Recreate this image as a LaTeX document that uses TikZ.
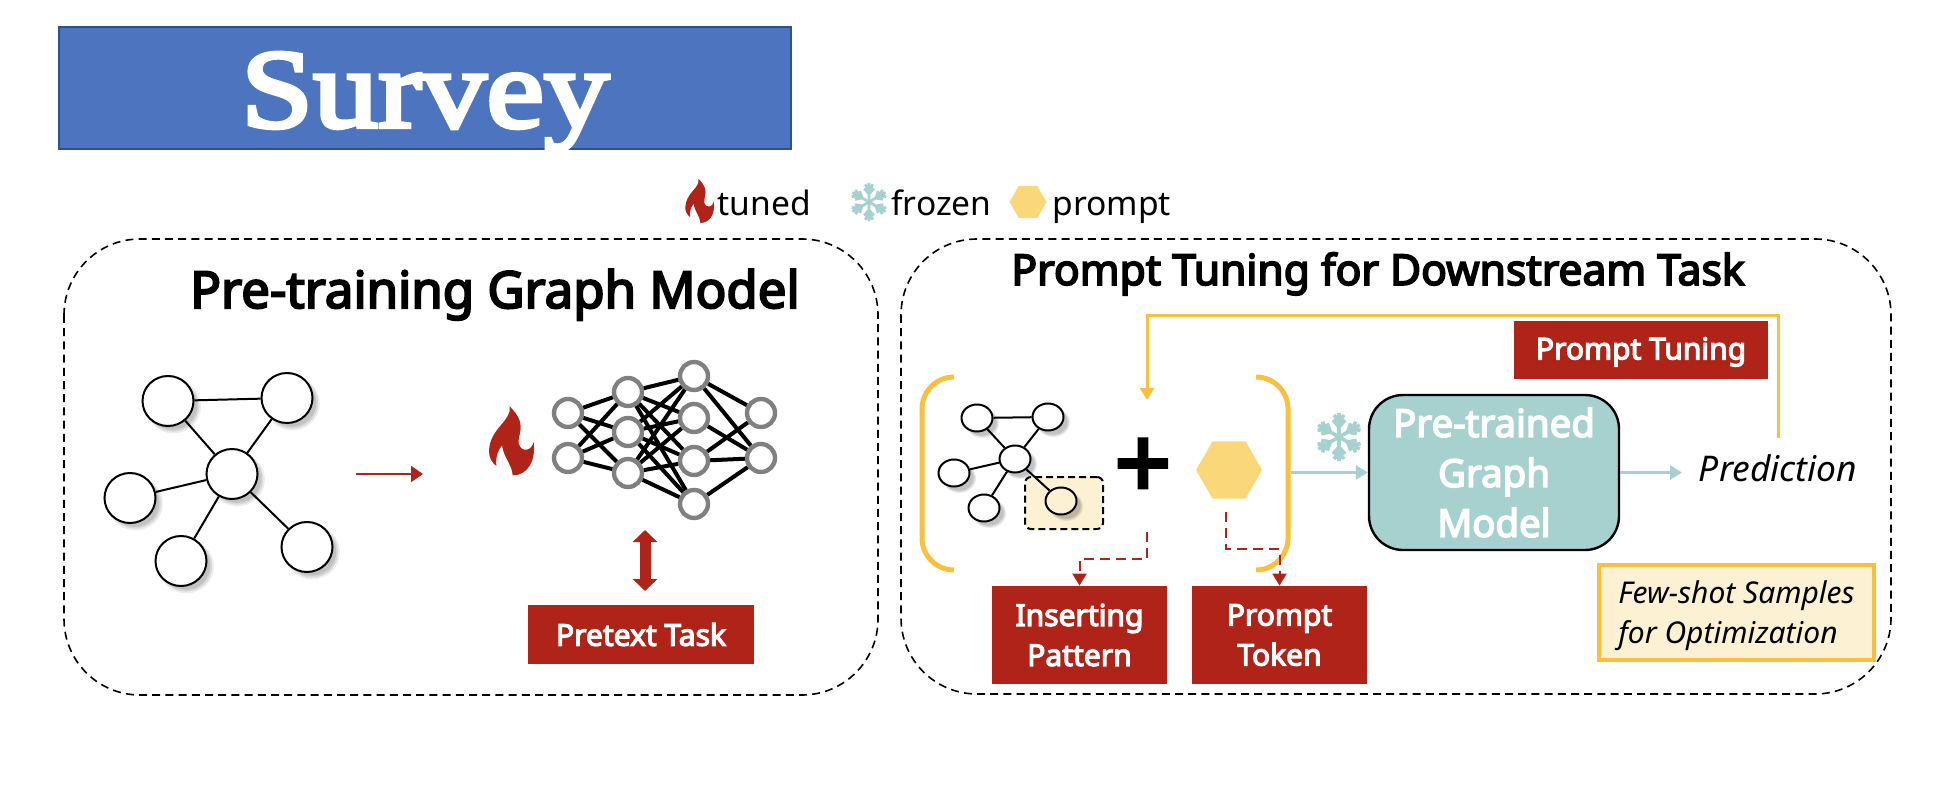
\documentclass[tikz,border=0pt]{standalone}
\usepackage{fontspec}
\usepackage{tikz}
\usetikzlibrary{arrows.meta,shapes.geometric,shadows}
\setmainfont{Noto Sans}
\newfontfamily\labelfont[FakeBold=4]{Noto Sans}
\newfontfamily\plusfont[FakeBold=3.5]{Noto Sans}
\newfontfamily\surveyfont[FakeBold=4,FakeStretch=1.16]{Liberation Serif}
\definecolor{tred}{HTML}{B02318}
\definecolor{tblue}{HTML}{4D75BF}
\definecolor{tblueline}{HTML}{2F528F}
\definecolor{tteal}{HTML}{A7D1CF}
\definecolor{tgold}{HTML}{F9BF3F}
\definecolor{thex}{HTML}{FAD779}
\definecolor{tcream}{HTML}{FCF2D3}
\tikzstyle{panel}=[draw=black,line width=0.8pt,dash pattern=on 4pt off 2.6pt,rounded corners=38pt]
\tikzstyle{titletext}=[anchor=base,inner sep=0pt,font=\labelfont\fontsize{25.5}{30}\selectfont]
\tikzstyle{legendtext}=[anchor=base west,inner sep=0pt,font=\fontsize{16.8}{20}\selectfont]
\tikzstyle{redbox}=[fill=tred,text=white,align=center,inner sep=0pt,font=\labelfont\fontsize{15}{20}\selectfont]
\tikzstyle{softshadow}=[general shadow={shadow xshift=2.5pt,shadow yshift=-2.5pt,shadow scale=1.08,fill=black,opacity=0.07},general shadow={shadow xshift=2.5pt,shadow yshift=-2.5pt,shadow scale=1.02,fill=black,opacity=0.09},general shadow={shadow xshift=2.5pt,shadow yshift=-2.5pt,shadow scale=0.96,fill=black,opacity=0.1}]
\tikzstyle{gnode}=[ellipse,draw=black,fill=white,line width=1pt,inner sep=0pt,minimum width=25.5pt,minimum height=25pt,softshadow]
\tikzstyle{smallnode}=[gnode,minimum width=15.5pt,minimum height=13.5pt]
\tikzstyle{nncirc}=[circle,draw=black!50,line width=2.2pt,fill=white,inner sep=0pt,minimum size=14pt]
\tikzstyle{goldline}=[draw=tgold,line width=1.5pt]
\tikzstyle{tealarrow}=[draw=tteal,line width=1.5pt,-{Triangle[length=6pt,width=7pt]}]
\tikzstyle{dasharrow}=[draw=tred,line width=1pt,dash pattern=on 5pt off 3pt,-{Triangle[length=6pt,width=7pt]}]
\tikzset{
	flame/.pic={
		\fill[tred] (-7,-104) .. controls (0,-60) and (-65,-40) .. (-69,28)
			.. controls (-70,50) and (-60,65) .. (-47,75)
			.. controls (-50,45) and (-40,25) .. (-30,13)
			.. controls (-25,50) and (0,70) .. (2,103)
			.. controls (45,103) and (72,63) .. (65,3)
			.. controls (60,28) and (30,38) .. (20,8)
			.. controls (15,-22) and (50,-47) .. (-7,-104) -- cycle;
	},
	snowflake/.pic={
		\foreach \a in {30,90,150,210,270,330}{
			\draw[tteal,rotate=\a] (0,0) -- (24,0) (10,0) -- (17,6) (10,0) -- (17,-6) (16,0) -- (22,5) (16,0) -- (22,-5);
		}
	}
}
\begin{document}
\begin{tikzpicture}[x=0.5pt,y=-0.5pt]
	\useasboundingbox (0,0) rectangle (1946,796);

	\node(survey)[anchor=north west,draw=tblueline,fill=tblue,line width=1pt,minimum width=366pt,minimum height=61pt,inner sep=0pt] at (58,26) {};
	\node[anchor=base,inner sep=0pt,text=white,font=\surveyfont\fontsize{56}{60}\selectfont] at (425,127) {Survey};

	% legend
	\pic[scale=0.213] at (700,201) {flame};
	\node(tuned)[legendtext] at (717,216) {tuned};
	\pic[scale=0.8,line width=1.4pt] at (869,202) {snowflake};
	\node(frozen)[legendtext] at (891,216) {frozen};
	\node(hexleg)[regular polygon,regular polygon sides=6,fill=thex,inner sep=0pt,minimum size=18.5pt] at (1028,202) {};
	\node(promptleg)[legendtext] at (1052,216) {prompt};

	% panels
	\draw[panel] (64,239) rectangle (878,695);
	\draw[panel] (901,239) rectangle (1891,694);
	\node(lefttitle)[titletext] at (495,308) {Pre-training Graph Model};
	\node(righttitle)[titletext,font=\labelfont\fontsize{21.3}{28}\selectfont] at (1378,285) {Prompt Tuning for Downstream Task};

	% graph on the left
	\node(g1)[gnode] at (168,401) {};
	\node(g2)[gnode] at (287,398) {};
	\node(g3)[gnode] at (232,474) {};
	\node(g4)[gnode] at (130,498) {};
	\node(g5)[gnode] at (181,561) {};
	\node(g6)[gnode] at (307,547) {};
	\path[draw=black,line width=1pt] (g1) -- (g2) (g1) -- (g3) (g2) -- (g3) (g3) -- (g4) (g3) -- (g5) (g3) -- (g6);

	\coordinate(arrowa) at (356,474);
	\coordinate(arrowb) at (423,474);
	\draw[draw=tred,line width=1pt,-{Triangle[length=6pt,width=8pt]}] (arrowa) -- (arrowb);
	\pic[scale=0.3333] at (512,441) {flame};

	% network
	\node(a1)[nncirc] at (568,413) {};
	\node(a2)[nncirc] at (568,458) {};
	\node(b1)[nncirc] at (628,392) {};
	\node(b2)[nncirc] at (628,432) {};
	\node(b3)[nncirc] at (628,473) {};
	\node(c1)[nncirc] at (694,376) {};
	\node(c2)[nncirc] at (694,418) {};
	\node(c3)[nncirc] at (694,461) {};
	\node(c4)[nncirc] at (694,504) {};
	\node(d1)[nncirc] at (761,413) {};
	\node(d2)[nncirc] at (761,458) {};
	\foreach \i in {a1,a2}
		\foreach \j in {b1,b2,b3}
			\draw[line width=2pt] (\i) -- (\j);
	\foreach \i in {b1,b2,b3}
		\foreach \j in {c1,c2,c3,c4}
			\draw[line width=2pt] (\i) -- (\j);
	\foreach \i/\j in {c1/d1,c1/d2,c2/d2,c3/d1,c3/d2,c4/d2}
		\draw[line width=2pt] (\i) -- (\j);

	\node(pretext)[redbox,minimum width=113pt,minimum height=29.5pt] at (641,634.5) {Pretext Task};
	\coordinate(pretop) at (645,530);
	\coordinate(prebot) at (645,591);
	\draw[draw=tred,line width=5.5pt,{Triangle[length=6pt,width=12pt]}-{Triangle[length=6pt,width=12pt]}] (pretop) -- (prebot);

	% prompt brackets
	\draw[goldline,line width=2.5pt,rounded corners=16pt] (954,377) -- (922,377) -- (922,570) -- (954,570);
	\draw[goldline,line width=2.5pt,rounded corners=16pt] (1256,377) -- (1288,377) -- (1288,570) -- (1256,570);

	% graph with inserting pattern
	\node(pattern)[draw=black,fill=tcream,line width=1pt,dash pattern=on 3.5pt off 2pt,rounded corners=3pt,minimum width=39pt,minimum height=26pt,inner sep=0pt] at (1064,503) {};
	\node(s1)[smallnode] at (977,418) {};
	\node(s2)[smallnode] at (1048,417) {};
	\node(s3)[smallnode] at (1015,459) {};
	\node(s4)[smallnode] at (954,473) {};
	\node(s5)[smallnode] at (984,508) {};
	\node(s6)[smallnode,fill=tcream] at (1061,501) {};
	\path[draw=black,line width=1pt] (s1) -- (s2) (s1) -- (s3) (s2) -- (s3) (s3) -- (s4) (s3) -- (s5) (s3) -- (s6);

	\node(plus)[inner sep=0pt,font=\plusfont\fontsize{50}{50}\selectfont] at (1143,469) {+};
	\node(hex)[regular polygon,regular polygon sides=6,fill=thex,inner sep=0pt,minimum size=33pt] at (1229,470) {};

	\node(ins)[redbox,minimum width=87.5pt,minimum height=49pt] at (1079.5,635) {Inserting\\Pattern};
	\node(tok)[redbox,minimum width=87.5pt,minimum height=49pt,right of=ins,node distance=100pt] {Prompt\\Token};
	\coordinate(plusdrop) at (1147,532);
	\coordinate(hexdrop) at (1226,512);
	\draw[dasharrow] (plusdrop) -- ++(0,27) -| (ins.north);
	\draw[dasharrow] (hexdrop) -- ++(0,37) -| (tok.north);

	% model and prediction
	\node(model)[draw=black,fill=tteal,text=white,line width=1.2pt,rounded corners=17pt,align=center,inner sep=0pt,minimum width=125pt,minimum height=77.5pt,font=\labelfont\fontsize{19.2}{25}\selectfont] at (1494,472.5) {Pre-trained\\Graph\\Model};
	\node(pred)[inner sep=0pt,minimum height=30pt,font=\itshape\fontsize{17.7}{20}\selectfont] at (1778,468) {Prediction};
	\coordinate(bracketout) at (1291,472.5);
	\coordinate(predin) at (1682,472.5);
	\draw[tealarrow] (bracketout) -- (model.west);
	\draw[tealarrow] (model.east) -- (predin);
	\pic[line width=1.8pt] at (1339,437) {snowflake};

	\coordinate(plusin) at (1147,400);
	\draw[goldline,-{Triangle[length=6pt,width=7pt]}] (pred.north) |- (plusin |- 0,316) -- (plusin);
	\node(tuning)[redbox,minimum width=127pt,minimum height=29pt,text height=12pt,text depth=2.6pt] at (1641,350) {Prompt Tuning};

	\node(fewshot)[draw=tgold,fill=tcream,line width=2pt,align=left,inner sep=0pt,minimum width=137.5pt,minimum height=47.5pt,font=\itshape\fontsize{15}{20}\selectfont] at (1736.5,612.5) {\rule{0pt}{15pt}Few-shot Samples\\for Optimization};
\end{tikzpicture}
\end{document}
